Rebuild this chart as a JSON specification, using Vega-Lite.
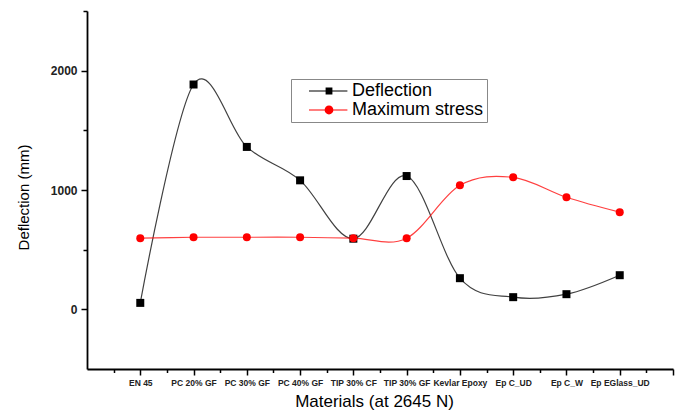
{
  "$schema": "https://vega.github.io/schema/vega-lite/v6.json",
  "width": 586,
  "height": 358,
  "autosize": "none",
  "padding": {"left": 87, "top": 11, "right": 9, "bottom": 42},
  "background": "white",
  "config": {
    "view": {"stroke": null},
    "font": "Liberation Sans"
  },
  "data": {
    "values": [
      {"i": 1, "material": "EN 45", "series": "Deflection", "value": 54},
      {"i": 2, "material": "PC 20% GF", "series": "Deflection", "value": 1884},
      {"i": 3, "material": "PC 30% GF", "series": "Deflection", "value": 1361},
      {"i": 4, "material": "PC 40% GF", "series": "Deflection", "value": 1081},
      {"i": 5, "material": "TIP 30% CF", "series": "Deflection", "value": 592},
      {"i": 6, "material": "TIP 30% GF", "series": "Deflection", "value": 1117},
      {"i": 7, "material": "Kevlar Epoxy", "series": "Deflection", "value": 261},
      {"i": 8, "material": "Ep C_UD", "series": "Deflection", "value": 102},
      {"i": 9, "material": "Ep C_W", "series": "Deflection", "value": 127},
      {"i": 10, "material": "Ep EGlass_UD", "series": "Deflection", "value": 286},
      {"i": 1, "material": "EN 45", "series": "Maximum stress", "value": 596},
      {"i": 2, "material": "PC 20% GF", "series": "Maximum stress", "value": 604},
      {"i": 3, "material": "PC 30% GF", "series": "Maximum stress", "value": 604},
      {"i": 4, "material": "PC 40% GF", "series": "Maximum stress", "value": 604},
      {"i": 5, "material": "TIP 30% CF", "series": "Maximum stress", "value": 596},
      {"i": 6, "material": "TIP 30% GF", "series": "Maximum stress", "value": 596},
      {"i": 7, "material": "Kevlar Epoxy", "series": "Maximum stress", "value": 1039},
      {"i": 8, "material": "Ep C_UD", "series": "Maximum stress", "value": 1106},
      {"i": 9, "material": "Ep C_W", "series": "Maximum stress", "value": 939},
      {"i": 10, "material": "Ep EGlass_UD", "series": "Maximum stress", "value": 814}
    ]
  },
  "encoding": {
    "x": {
      "field": "i",
      "type": "quantitative",
      "scale": {"domain": [0, 11], "nice": false, "zero": false},
      "axis": {
        "values": [0.5, 1, 1.5, 2, 2.5, 3, 3.5, 4, 4.5, 5, 5.5, 6, 6.5, 7, 7.5, 8, 8.5, 9, 9.5, 10, 10.5, 11],
        "labelExpr": "datum.value % 1 === 0 ? ['', 'EN 45', 'PC 20% GF', 'PC 30% GF', 'PC 40% GF', 'TIP 30% CF', 'TIP 30% GF', 'Kevlar Epoxy', 'Ep C_UD', 'Ep C_W', 'Ep EGlass_UD', ''][datum.value] : ''",
        "labelOverlap": false,
        "labelBound": false,
        "labelFlush": false,
        "labelFont": "Liberation Sans",
        "labelFontSize": 8.5,
        "labelFontWeight": "bold",
        "labelColor": "#222222",
        "labelPadding": 3,
        "tickSize": {"condition": {"test": "datum.value % 1 === 0", "value": 6}, "value": 3.5},
        "tickColor": "#000000",
        "tickWidth": 1.5,
        "domainColor": "#000000",
        "domainWidth": 1.8,
        "grid": false,
        "title": "Materials (at 2645 N)",
        "titleFont": "Liberation Sans",
        "titleFontSize": 17,
        "titleFontWeight": "normal",
        "titleColor": "#000000",
        "titleX": 287,
        "titleY": 37,
        "titleBaseline": "alphabetic"
      }
    },
    "y": {
      "field": "value",
      "type": "quantitative",
      "scale": {"domain": [-500, 2500], "nice": false, "zero": false},
      "axis": {
        "values": [0, 500, 1000, 1500, 2000, 2500],
        "labelExpr": "datum.value % 1000 === 0 ? datum.label : ''",
        "format": "d",
        "labelFont": "Liberation Sans",
        "labelFontSize": 12,
        "labelFontWeight": "bold",
        "labelColor": "#222222",
        "labelPadding": 4,
        "tickSize": {"condition": {"test": "datum.value % 1000 === 0", "value": 6}, "value": 4},
        "tickColor": "#000000",
        "tickWidth": 1.5,
        "domainColor": "#000000",
        "domainWidth": 1.8,
        "grid": false,
        "title": "Deflection (mm)",
        "titleFont": "Liberation Sans",
        "titleFontSize": 15,
        "titleFontWeight": "normal",
        "titleColor": "#000000",
        "titleAngle": -90,
        "titleX": -64,
        "titleY": 186,
        "titleAlign": "center",
        "titleBaseline": "middle"
      }
    },
    "color": {
      "field": "series",
      "type": "nominal",
      "scale": {"domain": ["Deflection", "Maximum stress"], "range": ["#000000", "#ff0000"]},
      "legend": {
        "title": null,
        "orient": "none",
        "legendX": 204,
        "legendY": 68,
        "padding": 3,
        "strokeColor": "#888888",
        "fillColor": "white",
        "labelFont": "Liberation Sans",
        "labelFontSize": 18,
        "labelColor": "#000000",
        "labelOffset": 40,
        "symbolSize": 64,
        "symbolStrokeWidth": 0,
        "symbolOpacity": 1,
        "rowPadding": 1
      }
    }
  },
  "layer": [
    {
      "mark": {"type": "line", "interpolate": "cardinal", "strokeWidth": 1.2, "opacity": 0.75}
    },
    {
      "transform": [{"filter": "datum.series === 'Deflection'"}],
      "mark": {"type": "point", "filled": true, "size": 64, "opacity": 1, "shape": "square"}
    },
    {
      "transform": [{"filter": "datum.series === 'Maximum stress'"}],
      "mark": {"type": "point", "filled": true, "size": 64, "opacity": 1, "shape": "circle"}
    },
    {
      "transform": [{"filter": "false"}],
      "mark": {"type": "point", "filled": true, "size": 64, "opacity": 1},
      "encoding": {
        "shape": {
          "field": "series",
          "type": "nominal",
          "scale": {
            "domain": ["Deflection", "Maximum stress"],
            "range": [
              "M1.5,-0.13L11.1,-0.13L11.1,0.13L1.5,0.13ZM5.65,-0.85L7.35,-0.85L7.35,0.85L5.65,0.85Z",
              "M1.5,-0.13L11.1,-0.13L11.1,0.13L1.5,0.13ZM5.4,0A1.1,1.1 0 1,1 7.6,0A1.1,1.1 0 1,1 5.4,0Z"
            ]
          },
          "legend": {
            "title": null,
            "orient": "none",
            "legendX": 204,
            "legendY": 68,
            "padding": 3,
            "strokeColor": "#888888",
            "fillColor": "white",
            "labelFont": "Liberation Sans",
            "labelFontSize": 18,
            "labelColor": "#000000",
            "labelOffset": 40,
            "symbolSize": 64,
            "symbolStrokeWidth": 0,
            "symbolOpacity": 1,
            "rowPadding": 1
          }
        }
      }
    }
  ]
}
